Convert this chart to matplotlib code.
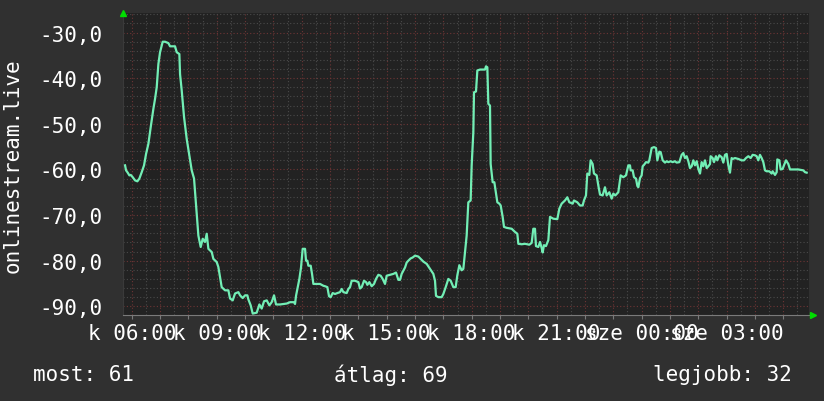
import numpy as np
import matplotlib
matplotlib.use('Agg')
import matplotlib.pyplot as plt
from matplotlib.ticker import MultipleLocator, FixedLocator

# time in hours from day-1 midnight
hours = [5.765, 5.80, 5.847, 5.918, 5.965, 6.035, 6.118, 6.2, 6.27, 6.353, 6.435, 6.506,
         6.588, 6.671, 6.765, 6.824, 6.882, 6.941, 7.0, 7.094, 7.176, 7.294, 7.353, 7.529,
         7.588, 7.682, 7.706, 7.765, 7.847, 7.941, 8.035, 8.118, 8.2, 8.271, 8.353, 8.435,
         8.506, 8.588, 8.647, 8.706, 8.824, 8.882, 9.0, 9.059, 9.118, 9.176, 9.294, 9.412,
         9.471, 9.565, 9.647, 9.765, 9.824, 9.918, 10.0, 10.082, 10.118, 10.2, 10.271,
         10.412, 10.506, 10.588, 10.671, 10.765, 10.859, 10.941, 11.024, 11.094, 11.235,
         11.471, 11.588,
         11.729, 11.765, 11.8, 11.847, 11.918, 11.976, 12.035, 12.118, 12.153, 12.2, 12.235,
         12.318, 12.365, 12.412, 12.506, 12.647, 12.765, 12.824, 12.906, 12.965, 13.024,
         13.094, 13.176, 13.259, 13.353, 13.412, 13.471, 13.588, 13.647, 13.706, 13.765,
         13.882, 14.0, 14.059, 14.118, 14.2, 14.271, 14.318, 14.388, 14.471, 14.553, 14.624,
         14.706, 14.788, 14.859, 14.941, 15.0, 15.118, 15.235, 15.329, 15.412, 15.471,
         15.529, 15.588, 15.647, 15.706, 15.765, 15.847, 15.918, 16.0, 16.118, 16.2, 16.294,
         16.412, 16.529, 16.647, 16.706, 16.741, 16.824, 16.941, 17.0, 17.094, 17.176,
         17.259, 17.353, 17.435,
         17.494, 17.565, 17.647, 17.706, 17.765, 17.823, 17.882, 17.964, 18.0, 18.059,
         18.082, 18.153, 18.2, 18.294, 18.47, 18.506, 18.553, 18.588, 18.647, 18.67, 18.741,
         18.8, 18.859, 18.906, 18.976, 19.024, 19.094, 19.141, 19.235, 19.412, 19.529,
         19.612, 19.647, 19.765, 19.882, 20.035, 20.118, 20.176, 20.235, 20.27, 20.353,
         20.412, 20.47, 20.506, 20.553, 20.623, 20.706, 20.765, 20.882, 21.023, 21.094,
         21.176, 21.294, 21.376, 21.447, 21.494, 21.565, 21.612, 21.729, 21.823, 21.917,
         21.964, 22.035, 22.082, 22.153, 22.2, 22.27, 22.317, 22.412, 22.47, 22.53, 22.623,
         22.706, 22.765, 22.859, 22.941, 23.0, 23.07, 23.176, 23.259, 23.353, 23.447, 23.53,
         23.588,
         23.612, 23.683, 23.73, 23.8, 23.848, 23.883, 23.942, 24.0, 24.036, 24.083, 24.154,
         24.236, 24.271, 24.318, 24.354, 24.436, 24.507, 24.53, 24.554, 24.624, 24.671,
         24.742, 24.824, 24.883, 24.942, 25.024, 25.095, 25.177, 25.236, 25.33, 25.412,
         25.471, 25.53, 25.589, 25.648, 25.707, 25.766, 25.824, 25.883, 25.942, 26.001,
         26.06, 26.118, 26.177, 26.236, 26.295, 26.354, 26.413, 26.436, 26.507, 26.554,
         26.624, 26.671, 26.742, 26.824, 26.883, 26.942, 27.001, 27.06, 27.118, 27.177,
         27.213, 27.295, 27.413, 27.53, 27.613, 27.683, 27.766, 27.848, 27.918, 28.001,
         28.06, 28.118, 28.177, 28.236, 28.295, 28.354, 28.413, 28.507, 28.589, 28.624,
         28.707, 28.766, 28.789, 28.86, 28.907, 28.977, 29.024, 29.095, 29.177, 29.236,
         29.354, 29.53, 29.707, 29.766, 29.825]

values = [-59.1, -60.2, -60.6, -61.3, -61.2, -61.7, -62.4, -62.6, -62.0, -60.6, -59.1, -56.6,
          -54.4, -50.7, -46.7, -44.5, -42.0, -36.9, -34.3, -32.0, -32.0, -32.3, -33.0, -33.0,
          -34.3, -34.7, -39.1, -42.7, -48.5, -53.3, -56.9, -60.2, -62.0, -67.9, -74.5, -77.0,
          -75.2, -75.9, -74.1, -77.4, -78.1, -79.6, -80.3, -81.4, -83.6, -85.8, -86.5, -86.5,
          -88.3, -88.7, -87.2, -86.9, -87.6, -88.2, -87.6, -87.6, -88.5, -89.8, -91.6,
          -91.4, -89.6, -90.5, -88.9, -88.7, -89.8, -89.1, -87.6, -89.6, -89.6,
          -89.4, -89.1,
          -89.1, -89.5, -87.7, -86.2, -84.0, -81.5, -77.4, -77.4, -80.0, -80.0, -81.1,
          -81.1, -82.9, -85.1, -85.1, -85.1, -85.5, -85.6, -85.8, -87.8, -88.0,
          -87.1, -87.3, -87.1, -86.9, -86.2, -86.9, -87.1, -86.2, -85.8, -84.4,
          -84.4, -84.7, -86.1, -85.8, -84.4, -84.7, -85.3, -84.7, -85.6, -85.1, -84.0,
          -83.1, -83.3, -84.0, -85.1, -83.3, -83.1, -82.9, -82.6, -84.2, -84.2,
          -82.9, -82.2, -81.5, -80.4, -80.0, -79.5, -79.3, -78.9, -79.1, -79.6, -80.2,
          -80.7, -81.8, -82.9, -84.4, -87.7, -88.0, -88.0, -87.3, -85.6, -84.0,
          -84.4, -85.8, -85.8,
          -83.2, -81.0, -82.1, -81.8, -78.1, -74.5, -67.2, -66.8, -59.1, -51.8,
          -43.1, -42.9, -38.3, -38.1, -38.1, -37.4, -37.6, -45.6, -46.0, -58.8, -62.8,
          -62.8, -65.3, -67.2, -67.5, -67.9, -70.4, -72.6, -72.8, -73.0, -73.7,
          -74.1, -76.3, -76.4, -76.3, -76.5, -76.1, -73.0, -73.0, -76.8, -77.0,
          -75.9, -77.2, -78.2, -76.6, -76.8, -75.5, -70.4, -70.8, -70.9, -68.6,
          -67.5, -66.8, -66.1, -67.2, -67.3, -67.5, -66.8, -67.2, -67.9, -67.9,
          -66.8, -65.7, -60.9, -61.2, -58.0, -58.8, -60.9, -61.3, -63.5, -65.5, -65.7,
          -63.9, -65.7, -65.0, -66.4, -65.3, -65.7, -65.0, -61.3, -61.7, -61.3, -59.1,
          -59.1,
          -60.2, -60.2, -61.7, -62.0, -63.6, -63.9, -61.9, -61.3, -59.3, -59.0, -58.4,
          -58.5, -58.0, -56.4, -55.3, -55.1, -55.3, -56.6, -58.0, -56.1, -56.2,
          -58.0, -58.5, -58.2, -58.4, -58.2, -58.4, -58.2, -58.5, -58.4, -56.8,
          -56.4, -57.5, -57.1, -58.2, -59.7, -59.3, -58.0, -59.1, -58.2, -59.9,
          -60.9, -58.4, -59.3, -58.0, -59.7, -59.3, -58.8, -57.1, -57.5, -58.4,
          -57.1, -58.0, -56.9, -57.3, -58.5, -56.8, -56.6, -59.1, -60.7, -57.5,
          -57.7, -57.5, -57.7, -58.0, -58.0, -57.5, -57.1, -57.5, -56.8, -56.9,
          -57.1, -58.0, -56.8, -57.5, -58.4, -60.2, -60.4, -60.4, -60.9, -60.4,
          -61.2, -60.6, -57.8, -58.0, -60.0, -59.9, -59.1, -58.0, -58.8, -60.0,
          -60.0, -60.0, -60.2, -60.6, -60.7]

label_hours = [6, 9, 12, 15, 18, 21, 24, 27]
label_texts = ['k 06:00', 'k 09:00', 'k 12:00', 'k 15:00', 'k 18:00', 'k 21:00',
               'sze 00:00', 'sze 03:00']
y_ticks = [-30, -40, -50, -60, -70, -80, -90]
summary = ['most: 61', 'átlag: 69', 'legjobb: 32']
series_name = 'onlinestream.live'

canvas = '#303030'
plot_bg = '#222222'
line_col = '#72eeb5'
mono = 'DejaVu Sans Mono'

fig = plt.figure(figsize=(8.24, 4.02), dpi=100, facecolor=canvas)
W, H = 824, 402
left, right, top, bottom = 123.5, 809.5, 14, 315.5
ax = fig.add_axes([left / W, (H - bottom) / H, (right - left) / W, (bottom - top) / H])
ax.set_facecolor(plot_bg)

ax.plot(hours, values, color=line_col, lw=1.6, zorder=3)

ax.set_xlim(5.71, 29.925)
ax.set_ylim(-91.8, -25.7)

# every hour gets a major (red) grid line, labels only every third hour
hour_ticks = list(range(6, 30))
hour_labels = [label_texts[label_hours.index(h)] if h in label_hours else '' for h in hour_ticks]
ax.set_xticks(hour_ticks, labels=hour_labels)
ax.xaxis.set_minor_locator(MultipleLocator(0.5))
ax.set_yticks(y_ticks, labels=['%d,0' % v for v in y_ticks])
ax.yaxis.set_minor_locator(MultipleLocator(2))

ax.grid(which='minor', color='#4a4a4a', linestyle=(0, (1, 2)), lw=0.8)
ax.grid(which='major', color='#6e3535', linestyle=(0, (1, 2)), lw=0.8)
ax.set_axisbelow(True)

ax.tick_params(axis='x', which='major', colors='#7a7a7a', length=3, width=0.8,
               labelcolor='white', labelsize=15, pad=3)
ax.tick_params(axis='x', which='minor', length=0)
ax.tick_params(axis='y', which='both', length=0, labelcolor='white', labelsize=15, pad=15)
for lab in ax.get_xticklabels() + ax.get_yticklabels():
    lab.set_fontfamily(mono)

for side in ['top', 'right']:
    ax.spines[side].set_visible(False)
ax.spines['bottom'].set_color('#7a7a7a')
ax.spines['left'].set_color('#3a3a3a')

# small green arrow heads at the axis ends
ax.plot([0.0], [1.0], marker='^', color='#00dd00', ms=5, transform=ax.transAxes,
        clip_on=False, zorder=5)
ax.plot([1.005], [0.0], marker='>', color='#00dd00', ms=5, transform=ax.transAxes,
        clip_on=False, zorder=5)

fig.text(13 / W, 1 - 166 / H, series_name, rotation=90, color='white', fontsize=15,
         family=mono, ha='center', va='center')

fig.text(33 / W, 1 - 375 / H, summary[0], color='white', fontsize=15, family=mono,
         ha='left', va='center')
fig.text(391 / W, 1 - 375 / H, summary[1], color='white', fontsize=15, family=mono,
         ha='center', va='center')
fig.text(792 / W, 1 - 375 / H, summary[2], color='white', fontsize=15, family=mono,
         ha='right', va='center')

fig.savefig('out.png', dpi=100, facecolor=canvas)
